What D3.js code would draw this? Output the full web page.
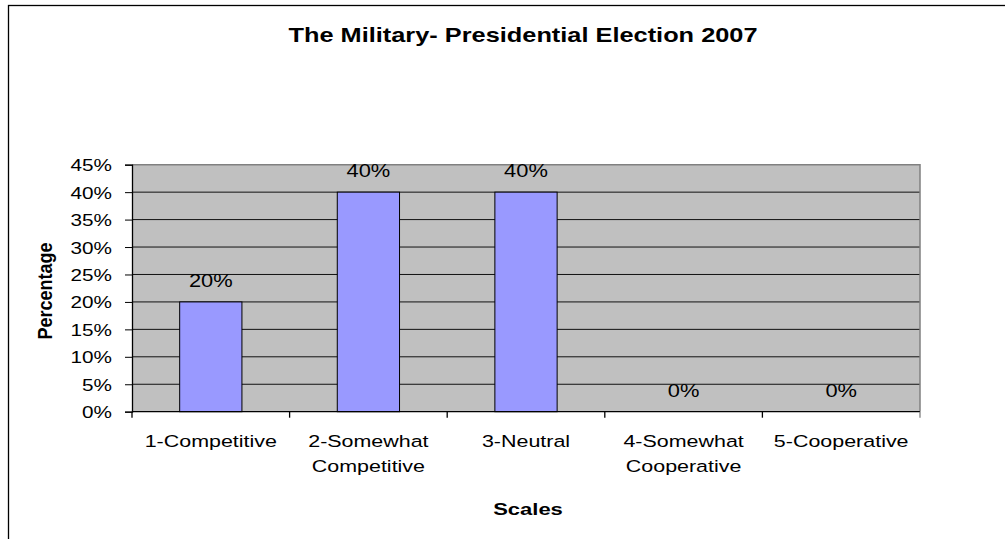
<!DOCTYPE html>
<html>
<head>
<meta charset="utf-8">
<script src="https://cdn.jsdelivr.net/npm/d3@7"></script>
<style>
  body { margin: 0; background: #fff; }
  text { font-family: "Liberation Sans", Arial, sans-serif; fill: #000; }
</style>
</head>
<body>
<svg id="chart" width="1005" height="539"></svg>
<script>
// data
var categories = ["1-Competitive", "2-Somewhat Competitive", "3-Neutral", "4-Somewhat Cooperative", "5-Cooperative"]
var categoryLines = [["1-Competitive"], ["2-Somewhat", "Competitive"], ["3-Neutral"], ["4-Somewhat", "Cooperative"], ["5-Cooperative"]]
var values = [20, 40, 40, 0, 0]
var yTicks = [0, 5, 10, 15, 20, 25, 30, 35, 40, 45]

var plot = {left: 132, right: 920, top: 164.7, bottom: 411.7}

const svg = d3.select("#chart")

// outer chart border (only left and top edges are inside the picture)
svg.append("rect")
    .attr("x", 8.5).attr("y", 5.5)
    .attr("width", 1200).attr("height", 800)
    .attr("fill", "none")
    .attr("stroke", "#000")
    .attr("stroke-width", 1.3)

const x = d3.scaleBand()
    .domain(categories)
    .range([plot.left, plot.right])

const y = d3.scaleLinear()
    .domain([0, 45])
    .range([plot.bottom, plot.top])

// text in the picture is stretched sideways
function label(g, tx, ty, str, size, sx, opts) {
    opts = opts || {}
    return g.append("text")
        .attr("transform", "translate(" + tx + "," + ty + ") scale(" + sx + ",1)" + (opts.rotate ? " rotate(" + opts.rotate + ")" : ""))
        .attr("text-anchor", opts.anchor || "middle")
        .attr("font-size", size)
        .attr("font-weight", opts.bold ? "bold" : "normal")
        .text(str)
}

// plot area
svg.append("rect")
    .attr("x", plot.left).attr("y", plot.top)
    .attr("width", plot.right - plot.left)
    .attr("height", plot.bottom - plot.top)
    .attr("fill", "#c0c0c0")

// gridlines
svg.append("g")
    .selectAll("line")
    .data(yTicks.slice(1, -1))
    .join("line")
    .attr("x1", plot.left).attr("x2", plot.right)
    .attr("y1", d => y(d)).attr("y2", d => y(d))
    .attr("stroke", "#111")
    .attr("stroke-width", 1)

// plot area border (top + right are grey)
svg.append("path")
    .attr("d", "M" + plot.left + "," + plot.top + "H" + plot.right + "V" + plot.bottom)
    .attr("fill", "none")
    .attr("stroke", "#808080")
    .attr("stroke-width", 1.5)

// bars
const barW = x.bandwidth() * 0.395
svg.append("g")
    .selectAll("rect")
    .data(values)
    .join("rect")
    .attr("x", (d, i) => x(categories[i]) + x.bandwidth() / 2 - barW / 2)
    .attr("y", d => y(d))
    .attr("width", barW)
    .attr("height", d => y(0) - y(d))
    .attr("fill", "#9999ff")
    .attr("stroke", "#000")
    .attr("stroke-width", 1)

// value labels
const vals = svg.append("g")
values.forEach(function (v, i) {
    label(vals, x(categories[i]) + x.bandwidth() / 2, y(v) - 15, v + "%", 17.5, 1.25)
})

// y axis
const yAxis = svg.append("g")
    .attr("transform", "translate(" + plot.left + ",0)")
    .call(d3.axisLeft(y).tickValues(yTicks).tickSize(7).tickFormat(d => d + "%"))
yAxis.select(".domain").attr("stroke", "#000").attr("stroke-width", 1.3)
yAxis.selectAll(".tick line").attr("stroke", "#000")
yAxis.selectAll(".tick text")
    .attr("x", null).attr("dy", null)
    .attr("transform", "translate(-20,6) scale(1.22,1)")
    .attr("font-size", 17)
    .attr("font-family", "Liberation Sans, Arial, sans-serif")
    .attr("fill", "#000")

// x axis baseline and boundary ticks
svg.append("line")
    .attr("x1", plot.left).attr("x2", plot.right)
    .attr("y1", plot.bottom).attr("y2", plot.bottom)
    .attr("stroke", "#000").attr("stroke-width", 1.3)
var bounds = categories.map(c => x(c)).concat([plot.right])
svg.append("g")
    .selectAll("line")
    .data(bounds)
    .join("line")
    .attr("x1", d => d).attr("x2", d => d)
    .attr("y1", plot.bottom).attr("y2", plot.bottom + 6)
    .attr("stroke", (d, i) => i == bounds.length - 1 ? "#808080" : "#000")
    .attr("stroke-width", 1.3)

// category labels
const cats = svg.append("g")
categoryLines.forEach(function (lines, i) {
    lines.forEach(function (ln, j) {
        label(cats, x(categories[i]) + x.bandwidth() / 2, 447 + j * 25, ln, 16.5, 1.3)
    })
})

// titles
label(svg, 523, 42, "The Military- Presidential Election 2007", 19.5, 1.3, {bold: true})
label(svg, 528, 515, "Scales", 16.8, 1.31, {bold: true})
label(svg, 52, 291, "Percentage", 18, 1.15, {bold: true, rotate: -90})
</script>
</body>
</html>
